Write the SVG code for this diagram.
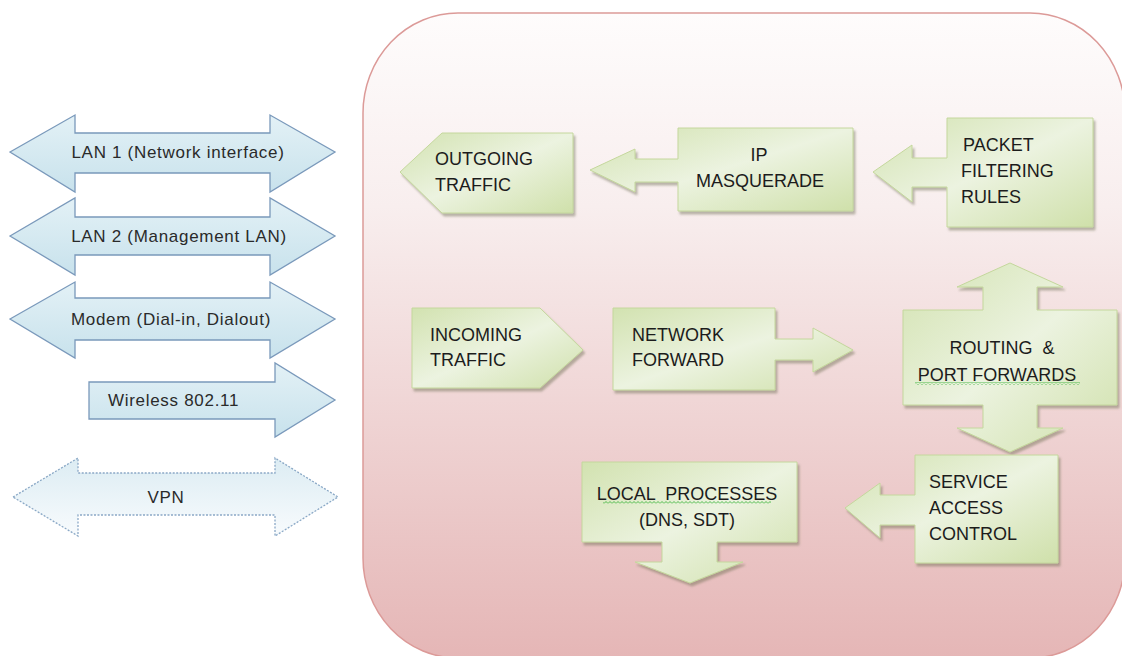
<svg xmlns="http://www.w3.org/2000/svg" width="1122" height="656" viewBox="0 0 1122 656">
<defs>
<linearGradient id="bg" x1="0" y1="0" x2="0" y2="1">
<stop offset="0" stop-color="#fefcfc"/>
<stop offset="0.3" stop-color="#f8eeee"/>
<stop offset="1" stop-color="#e5b6b6"/>
</linearGradient>
<linearGradient id="gr" x1="0" y1="0" x2="1" y2="1">
<stop offset="0" stop-color="#d2e2b0"/>
<stop offset="0.5" stop-color="#ecf3e0"/>
<stop offset="1" stop-color="#cfe0aa"/>
</linearGradient>
<linearGradient id="bl" x1="0" y1="0" x2="0" y2="1">
<stop offset="0" stop-color="#e3f1f6"/>
<stop offset="1" stop-color="#c8e2ec"/>
</linearGradient>
<linearGradient id="vpn" x1="0" y1="0" x2="0" y2="1">
<stop offset="0" stop-color="#dcecf3"/>
<stop offset="1" stop-color="#f8fbfd"/>
</linearGradient>
<filter id="sh" x="-10%" y="-10%" width="130%" height="130%">
<feDropShadow dx="2" dy="3" stdDeviation="1.2" flood-color="#6a6a50" flood-opacity="0.45"/>
</filter>
<pattern id="wavy" width="4" height="3" patternUnits="userSpaceOnUse">
<polyline points="0,2.5 2,0.5 4,2.5" fill="none" stroke="#3cb43c" stroke-width="0.9"/>
</pattern>
<style>
.g{fill:url(#gr);stroke:#c4d79c;stroke-width:1;filter:url(#sh)}
.b{fill:url(#bl);stroke:#7a99bb;stroke-width:1.3}
.v{fill:url(#vpn);stroke:#8aa8c6;stroke-width:1.3;stroke-dasharray:2 1.5}
.t{font-family:"Liberation Sans",Arial,sans-serif;font-size:18px;fill:#1c1c1c}
.l{font-family:"Liberation Sans",Arial,sans-serif;font-size:17px;letter-spacing:0.7px;fill:#2a2a2a}
</style>
</defs>
<g id="container">
<rect x="363" y="13" width="762" height="645" rx="95" ry="100" fill="url(#bg)" stroke="#dc9a98" stroke-width="1.5"/>
</g>
<g id="lan1">
<polygon class="b" points="10,152 75,115 75,133 270,133 270,115 335,152 270,192 270,173 75,173 75,192"/>
<text class="l" x="178" y="158" text-anchor="middle">LAN 1 (Network interface)</text>
</g>
<g id="lan2">
<polygon class="b" points="10,236 75,198 75,217 270,217 270,198 335,236 270,275 270,255 75,255 75,275"/>
<text class="l" x="179" y="242" text-anchor="middle">LAN 2 (Management LAN)</text>
</g>
<g id="modem">
<polygon class="b" points="10,319 75,282 75,298 270,298 270,282 335,319 270,358 270,340 75,340 75,358"/>
<text class="l" x="171" y="325" text-anchor="middle">Modem (Dial-in, Dialout)</text>
</g>
<g id="wireless">
<polygon class="b" points="89,382 275,382 275,363 335,400 275,437 275,419 89,419"/>
<text class="l" x="108" y="406">Wireless 802.11</text>
</g>
<g id="vpn-node">
<polygon class="v" points="13,497 78,458 78,473 275,473 275,458 338,497 275,536 275,515 78,515 78,536"/>
<text class="l" x="166" y="503" text-anchor="middle">VPN</text>
</g>
<g id="outgoing">
<polygon class="g" points="400,172 442,133 573,133 573,213 442,213"/>
<text class="t" x="435" y="165">OUTGOING</text>
<text class="t" x="435" y="191">TRAFFIC</text>
</g>
<g id="ip-masquerade">
<polygon class="g" points="678,128 853,128 853,211 678,211 678,182 635,182 635,192 590,170 635,149 635,159 678,159"/>
<text class="t" x="759" y="161" text-anchor="middle">IP</text>
<text class="t" x="760" y="187" text-anchor="middle">MASQUERADE</text>
</g>
<g id="packet-filtering">
<polygon class="g" points="947,118 1093,118 1093,227 947,227 947,187 912,187 912,202 873,172 912,145 912,158 947,158"/>
<text class="t" x="963" y="151">PACKET</text>
<text class="t" x="961" y="177">FILTERING</text>
<text class="t" x="961" y="203">RULES</text>
</g>
<g id="incoming">
<polygon class="g" points="412,308 540,308 583,350 540,388 412,388"/>
<text class="t" x="430" y="341">INCOMING</text>
<text class="t" x="430" y="366">TRAFFIC</text>
</g>
<g id="network-forward">
<polygon class="g" points="613,308 775,308 775,339 813,339 813,328 853,350 813,372 813,360 775,360 775,390 613,390"/>
<text class="t" x="632" y="341">NETWORK</text>
<text class="t" x="632" y="366">FORWARD</text>
</g>
<g id="routing">
<polygon class="g" points="903,310 983,310 983,287 957,287 1010,263 1063,287 1037,287 1037,310 1117,310 1117,405 1037,405 1037,428 1063,428 1010,452 957,428 983,428 983,405 903,405"/>
<text class="t" x="1002" y="354" text-anchor="middle" xml:space="preserve">ROUTING  &amp;</text>
<text class="t" x="997" y="381" text-anchor="middle">PORT FORWARDS</text>
<rect x="915" y="382" width="165" height="3" fill="url(#wavy)"/>
</g>
<g id="service-access">
<polygon class="g" points="915,455 1058,455 1058,563 915,563 915,525 880,525 880,538 845,508 880,483 880,495 915,495"/>
<text class="t" x="929" y="488">SERVICE</text>
<text class="t" x="929" y="514">ACCESS</text>
<text class="t" x="929" y="540">CONTROL</text>
</g>
<g id="local-processes">
<polygon class="g" points="582,462 797,462 797,542 717,542 717,562 743,562 690,583 635,562 662,562 662,542 582,542"/>
<text class="t" x="687" y="500" text-anchor="middle" xml:space="preserve">LOCAL  PROCESSES</text>
<text class="t" x="687" y="526" text-anchor="middle">(DNS, SDT)</text>
<rect x="603" y="501" width="168" height="3" fill="url(#wavy)"/>
</g>
<g id="connectors"/>
</svg>
